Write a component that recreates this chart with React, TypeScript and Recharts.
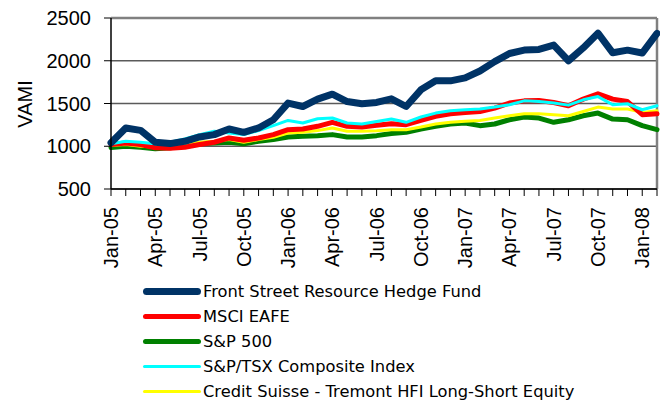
import React from 'react';
import { LineChart, Line, XAxis, YAxis, CartesianGrid, Legend, ReferenceLine } from 'recharts';

const months = [
  'Jan-05', 'Feb-05', 'Mar-05', 'Apr-05', 'May-05', 'Jun-05', 'Jul-05', 'Aug-05', 'Sep-05', 'Oct-05', 'Nov-05', 'Dec-05',
  'Jan-06', 'Feb-06', 'Mar-06', 'Apr-06', 'May-06', 'Jun-06', 'Jul-06', 'Aug-06', 'Sep-06', 'Oct-06', 'Nov-06', 'Dec-06',
  'Jan-07', 'Feb-07', 'Mar-07', 'Apr-07', 'May-07', 'Jun-07', 'Jul-07', 'Aug-07', 'Sep-07', 'Oct-07', 'Nov-07', 'Dec-07',
  'Jan-08', 'Feb-08',
];

const frontStreet = [
  1040, 1214, 1186, 1047, 1031, 1058, 1109, 1136, 1202, 1163,
  1214, 1310, 1505, 1465, 1551, 1609, 1523, 1497, 1512, 1555,
  1465, 1660, 1765, 1765, 1800, 1880, 1990, 2085, 2125, 2133,
  2183, 2000, 2150, 2322, 2093, 2124, 2090, 2320,
];
const msciEafe = [
  1020, 1039, 1020, 981, 977, 988, 1020, 1047, 1097, 1070,
  1097, 1136, 1194, 1202, 1233, 1280, 1233, 1225, 1246, 1264,
  1252, 1302, 1349, 1380, 1396, 1407, 1446, 1505, 1531, 1535,
  1512, 1473, 1551, 1613, 1551, 1523, 1369, 1380,
];
const sp500 = [
  985, 1000, 988, 970, 981, 1000, 1031, 1039, 1047, 1028,
  1058, 1078, 1109, 1117, 1124, 1136, 1109, 1109, 1124, 1148,
  1163, 1202, 1233, 1260, 1272, 1241, 1260, 1310, 1342, 1330,
  1280, 1310, 1357, 1388, 1318, 1310, 1241, 1194,
];
const spTsx = [
  1030, 1058, 1047, 1028, 1047, 1086, 1136, 1175, 1155, 1136,
  1183, 1241, 1302, 1272, 1322, 1330, 1272, 1260, 1290, 1318,
  1280, 1342, 1388, 1415, 1427, 1435, 1458, 1485, 1531, 1523,
  1505, 1481, 1543, 1581, 1485, 1497, 1427, 1473,
];
const csTremont = [
  1010, 1020, 1000, 992, 1000, 1020, 1047, 1058, 1078, 1047,
  1078, 1105, 1155, 1163, 1183, 1214, 1175, 1175, 1180, 1194,
  1194, 1225, 1260, 1280, 1291, 1302, 1330, 1357, 1380, 1380,
  1369, 1357, 1407, 1458, 1435, 1435, 1396, 1415,
];

const yTicks = [500, 1000, 1500, 2000, 2500];

const seriesNames = [
  'Front Street Resource Hedge Fund',
  'MSCI EAFE',
  'S&P 500',
  'S&P/TSX Composite Index',
  'Credit Suisse - Tremont HFI Long-Short Equity',
];
const seriesKeys = ['fs', 'msci', 'sp', 'tsx', 'cs'];
const seriesColors = ['#003366', '#ff0000', '#008000', '#00ffff', '#ffff00'];
const seriesWidths = [7, 5, 5, 3, 3];
const drawOrder = [2, 4, 1, 3, 0];

const data = months.map((m, i) => ({
  month: m,
  fs: frontStreet[i],
  msci: msciEafe[i],
  sp: sp500[i],
  tsx: spTsx[i],
  cs: csTremont[i],
}));

const AXIS_FONT = '"Liberation Sans", Arial, sans-serif';

const XTick = (props: any) => {
  const { x, y, payload, index } = props;
  if (index % 3 !== 0) return null;
  return (
    <text
      x={x}
      y={y}
      transform={`rotate(-90 ${x} ${y})`}
      textAnchor="end"
      dominantBaseline="central"
      fontFamily={AXIS_FONT}
      fontSize={20}
      fill="#000"
    >
      {payload.value}
    </text>
  );
};

const LegendContent = () => (
  <div style={{ fontFamily: '"DejaVu Sans", Verdana, sans-serif', fontSize: 16.3, color: '#000' }}>
    {seriesNames.map((name, i) => (
      <div key={name} style={{ position: 'relative', height: 25 }}>
        <svg width={66} height={25} style={{ position: 'absolute', left: 140, top: 0 }}>
          <line
            x1={3 + seriesWidths[i] / 2}
            x2={61 - seriesWidths[i] / 2}
            y1={12.5}
            y2={12.5}
            stroke={seriesColors[i]}
            strokeWidth={seriesWidths[i]}
            strokeLinecap="round"
          />
        </svg>
        <span style={{ position: 'absolute', left: 203, top: 0, lineHeight: '25px', whiteSpace: 'nowrap' }}>{name}</span>
      </div>
    ))}
  </div>
);

export default function App() {
  return (
    <div style={{ width: 660, height: 402, background: '#fff' }}>
      <style>{'body{margin:0;}'}</style>
      <LineChart width={660} height={402} data={data} margin={{ top: 18, right: 3, left: 0, bottom: 113 }}>
        <CartesianGrid vertical={false} stroke="#5a5a5a" strokeWidth={1.3} />
        <XAxis
          dataKey="month"
          scale="point"
          padding={{ left: 0, right: 0 }}
          interval={0}
          height={100}
          tick={<XTick />}
          tickSize={7}
          tickMargin={11}
          axisLine={{ stroke: '#000', strokeWidth: 1.5 }}
          tickLine={{ stroke: '#000', strokeWidth: 1 }}
        />
        <YAxis
          domain={[500, 2500]}
          ticks={yTicks}
          width={111}
          tickSize={7}
          tickMargin={13}
          tick={{ fontFamily: AXIS_FONT, fontSize: 20, fill: '#000' }}
          axisLine={{ stroke: '#000', strokeWidth: 1.5 }}
          tickLine={{ stroke: '#000', strokeWidth: 1 }}
          label={{
            content: () => (
              <text
                x={25}
                y={104}
                transform="rotate(-90 25 104)"
                textAnchor="middle"
                dominantBaseline="central"
                fontFamily={AXIS_FONT}
                fontSize={20}
                fill="#000"
              >
                VAMI
              </text>
            ),
          }}
        />
        <ReferenceLine y={2500} stroke="#808080" strokeWidth={2.5} />
        <ReferenceLine x="Feb-08" stroke="#808080" strokeWidth={2.5} />
        {drawOrder.map((i) => (
          <Line
            key={seriesKeys[i]}
            type="linear"
            dataKey={seriesKeys[i]}
            name={seriesNames[i]}
            stroke={seriesColors[i]}
            strokeWidth={seriesWidths[i]}
            strokeLinejoin="round"
            strokeLinecap="round"
            dot={false}
            activeDot={false}
            isAnimationActive={false}
          />
        ))}
        <Legend
          layout="vertical"
          align="center"
          verticalAlign="middle"
          content={<LegendContent />}
          wrapperStyle={{ top: 279, left: 0, width: 660 }}
        />
      </LineChart>
    </div>
  );
}
